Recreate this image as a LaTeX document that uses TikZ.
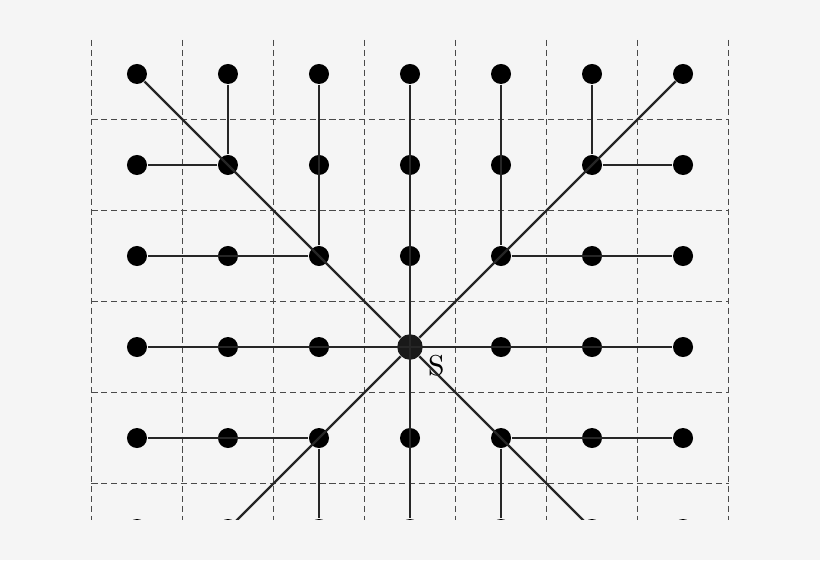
\documentclass[tikz,border=0pt]{standalone}
\usepackage{tikz}
\definecolor{paper}{HTML}{F5F5F5}
\definecolor{gridgray}{HTML}{4A4A4A}
\tikzset{
  dot/.style={circle, fill=black, inner sep=0pt, minimum size=0.22cm},
  source/.style={circle, fill=black!90, inner sep=0pt, minimum size=0.28cm},
  edge/.style={line width=0.7pt, black!85},
  cell/.style={gridgray, line width=0.35pt, dash pattern=on 1.9pt off 1.2pt}
}
\begin{document}
\begin{tikzpicture}
\pgfmathsetmacro{\L}{-1.505}
\pgfmathsetmacro{\R}{7.505}
\pgfmathsetmacro{\T}{0.813}
\pgfmathsetmacro{\B}{-5.341}
\fill[paper] (\L,\B) rectangle (\R,\T);
\useasboundingbox (\L,\B) rectangle (\R,\T);
\clip (\L,-4.9) rectangle (\R,\T);
% dashed cells
\foreach \x in {-0.5,0.5,...,6.5}
  \draw[cell] (\x,0.374) -- (\x,-4.9);
\foreach \y in {-0.5,-1.5,...,-4.5}
  \draw[cell] (-0.5,\y) -- (6.5,\y);
% lattice points
\foreach \i in {0,...,6}
  \foreach \j in {0,...,5}
    \node[dot] (p-\i-\j) at (\i,-\j) {};
\node[source] (p-3-3) at (3,-3) {};
\node at (p-3-3)[xshift=0.29cm, yshift=-0.2cm] {\fontsize{9}{10}\selectfont S};
% tree from S
\draw[edge] (p-0-3) -- (p-6-3);
\draw[edge] (p-3-0) -- (p-3-5);
\draw[edge] (p-0-0) -- (p-3-3) -- (p-6-0);
\draw[edge] (p-1-5) -- (p-3-3) -- (p-5-5);
\draw[edge] (p-1-0) -- (p-1-1) -- (p-0-1);
\draw[edge] (p-2-0) -- (p-2-2) -- (p-0-2);
\draw[edge] (p-5-0) -- (p-5-1) -- (p-6-1);
\draw[edge] (p-4-0) -- (p-4-2) -- (p-6-2);
\draw[edge] (p-0-4) -- (p-2-4) -- (p-2-5);
\draw[edge] (p-6-4) -- (p-4-4) -- (p-4-5);
\end{tikzpicture}
\end{document}
